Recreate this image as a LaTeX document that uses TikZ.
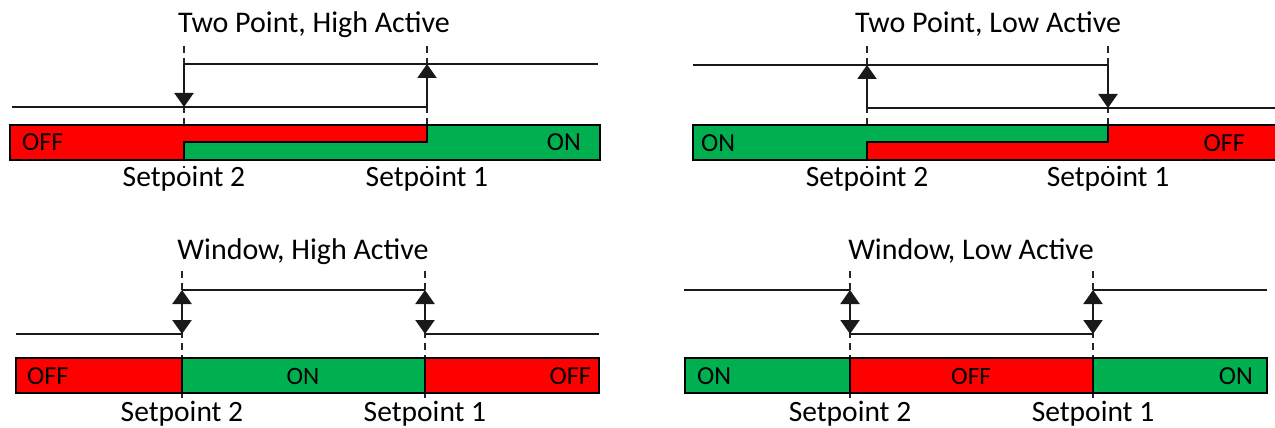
\documentclass[tikz,border=0pt]{standalone}
\usepackage{fontspec}
\setmainfont{Carlito}
\usetikzlibrary{arrows.meta}
\definecolor{offred}{RGB}{255,0,0}
\definecolor{ongreen}{RGB}{0,176,80}

\begin{document}
\begin{tikzpicture}[x=1pt,y=-1pt,
  sig/.style={line width=2.2pt, black!90},
  guide/.style={line width=1.6pt, dash pattern=on 7pt off 5pt, black!85},
  barline/.style={line width=1.8pt, black},
  head/.style={-{Triangle[width=19pt,length=14pt]}},
  heads/.style={{Triangle[width=19pt,length=14pt]}-{Triangle[width=19pt,length=14pt]}},
  title/.style={font=\fontsize{30}{36}\selectfont, anchor=base},
  splabel/.style={font=\fontsize{29.5}{35}\selectfont, anchor=base},
  state/.style={font=\fontsize{26}{31}\selectfont},
  midstate/.style={font=\fontsize{25}{30}\selectfont, anchor=base},
  inner sep=0pt]
\useasboundingbox (0,0) rectangle (1275,428);

% ---------- Two point, high active ----------
\draw[guide] (184,46) -- (184,168);
\draw[guide] (427,46) -- (427,168);
\fill[offred] (10,125) rectangle (600,160);
\fill[ongreen] (184,142) rectangle (600,160);
\fill[ongreen] (427,125) rectangle (600,142);
\draw[barline] (10,125) rectangle (600,160);
\draw[barline] (184,160) |- (427,142) -- (427,125);
\coordinate (a1L) at (12,107);
\coordinate (a1B) at (184,107);
\coordinate (a1T) at (184,64);
\coordinate (a1C) at (427,107);
\coordinate (a1D) at (427,64);
\coordinate (a1R) at (598,64);
\draw[sig] (a1L) -- (a1C);
\draw[sig] (a1T) -- (a1R);
\draw[sig,head] (a1T) -- (a1B);
\draw[sig,head] (a1C) -- (a1D);
\node[title] (t1) at (314,33) {Two Point, High Active};
\node[splabel] (s12) at (184,186) {Setpoint 2};
\node[splabel] (s11) at (427,186) {Setpoint 1};
\node[state,anchor=base west] (off1) at (22,150) {OFF};
\node[state,anchor=base east] (on1) at (581,150) {ON};

% ---------- Two point, low active ----------
\draw[guide] (867,46) -- (867,168);
\draw[guide] (1108,46) -- (1108,168);
\fill[offred] (693,125) rectangle (1285,160);
\fill[ongreen] (693,125) rectangle (1108,142);
\fill[ongreen] (693,142) rectangle (867,160);
\draw[barline] (693,125) rectangle (1285,160);
\draw[barline] (867,160) |- (1108,142) -- (1108,125);
\coordinate (a2L) at (693,65);
\coordinate (a2T) at (867,65);
\coordinate (a2B) at (867,108);
\coordinate (a2C) at (1108,65);
\coordinate (a2D) at (1108,108);
\coordinate (a2R) at (1285,108);
\draw[sig] (a2L) -- (a2C);
\draw[sig] (a2B) -- (a2R);
\draw[sig,head] (a2B) -- (a2T);
\draw[sig,head] (a2C) -- (a2D);
\node[title] (t2) at (988,33) {Two Point, Low Active};
\node[splabel] (s22) at (867,186) {Setpoint 2};
\node[splabel] (s21) at (1108,186) {Setpoint 1};
\node[state,anchor=base west] (on2) at (701,151) {ON};
\node[state,anchor=base east] (off2) at (1245,151) {OFF};

% ---------- Window, high active ----------
\draw[guide] (182,271) -- (182,402);
\draw[guide] (425,271) -- (425,402);
\fill[offred] (16,358) rectangle (599,393);
\fill[ongreen] (182,358) rectangle (425,393);
\draw[barline] (16,358) rectangle (599,393);
\draw[barline] (182,358) -- (182,393);
\draw[barline] (425,358) -- (425,393);
\coordinate (a3L) at (16,334);
\coordinate (a3B) at (182,334);
\coordinate (a3T) at (182,290);
\coordinate (a3U) at (425,290);
\coordinate (a3D) at (425,334);
\coordinate (a3R) at (599,334);
\draw[sig] (a3L) -- (a3B);
\draw[sig] (a3T) -- (a3U);
\draw[sig] (a3D) -- (a3R);
\draw[sig,heads] (a3T) -- (a3B);
\draw[sig,heads] (a3U) -- (a3D);
\node[title] (t3) at (303,259) {Window, High Active};
\node[splabel] (s32) at (182,421) {Setpoint 2};
\node[splabel] (s31) at (425,421) {Setpoint 1};
\node[state,anchor=base west] (off3a) at (27,384) {OFF};
\node[midstate] (on3) at (303,384) {ON};
\node[state,anchor=base east] (off3b) at (591,384) {OFF};

% ---------- Window, low active ----------
\draw[guide] (850,271) -- (850,402);
\draw[guide] (1093,271) -- (1093,402);
\fill[ongreen] (685,358) rectangle (1267,393);
\fill[offred] (850,358) rectangle (1093,393);
\draw[barline] (685,358) rectangle (1267,393);
\draw[barline] (850,358) -- (850,393);
\draw[barline] (1093,358) -- (1093,393);
\coordinate (a4L) at (684,290);
\coordinate (a4T) at (850,290);
\coordinate (a4B) at (850,334);
\coordinate (a4D) at (1093,334);
\coordinate (a4U) at (1093,290);
\coordinate (a4R) at (1267,290);
\draw[sig] (a4L) -- (a4T);
\draw[sig] (a4B) -- (a4D);
\draw[sig] (a4U) -- (a4R);
\draw[sig,heads] (a4T) -- (a4B);
\draw[sig,heads] (a4U) -- (a4D);
\node[title] (t4) at (971,259) {Window, Low Active};
\node[splabel] (s42) at (850,421) {Setpoint 2};
\node[splabel] (s41) at (1093,421) {Setpoint 1};
\node[state,anchor=base west] (on4a) at (697,384) {ON};
\node[midstate] (off4) at (971,384) {OFF};
\node[state,anchor=base east] (on4b) at (1253,384) {ON};
\end{tikzpicture}
\end{document}
